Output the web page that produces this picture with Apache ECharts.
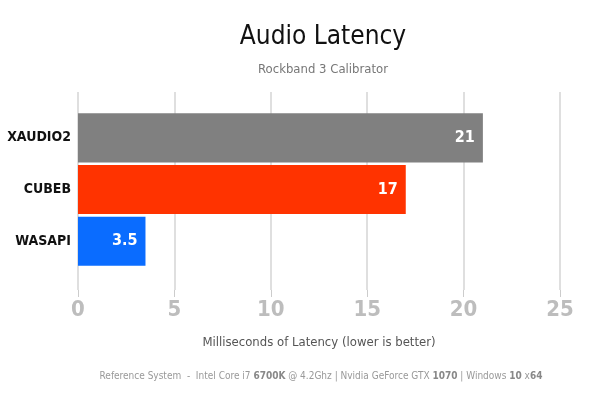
<!DOCTYPE html>
<html>
<head>
<meta charset="utf-8">
<script src="https://cdn.jsdelivr.net/npm/echarts@6/dist/echarts.min.js"></script>
<style>
  html, body { margin: 0; padding: 0; background: #fff; }
  #chart { width: 592px; height: 397px; }
</style>
</head>
<body>
<div id="chart"></div>
<script>
var apis = ['WASAPI', 'CUBEB', 'XAUDIO2'];
var latency = [3.5, 17, 21];
var barColors = ['#0a6cff', '#ff3300', '#808080'];
var tickValues = [0, 5, 10, 15, 20, 25];

var font = '"DejaVu Sans Condensed", "Liberation Sans Narrow", sans-serif';

var myChart = echarts.init(document.getElementById('chart'), null, {renderer: 'canvas'});
var option = {
    backgroundColor: '#fff',
    animation: false,
    title: [
        {
            text: 'Audio Latency',
            left: 318, textAlign: 'center', top: 19,
            textStyle: {fontFamily: font, fontSize: 26, fontWeight: 'normal', color: '#111'}
        },
        {
            text: 'Rockband 3 Calibrator',
            left: 318, textAlign: 'center', top: 58,
            textStyle: {fontFamily: font, fontSize: 13, fontWeight: 'normal', color: '#777'}
        },
        {
            text: 'Milliseconds of Latency (lower is better)',
            left: 314, textAlign: 'center', top: 331,
            textStyle: {fontFamily: font, fontSize: 13, fontWeight: 'normal', color: '#555'}
        },
        {
            text: '{n|Reference System  -  Intel Core i7 }{b|6700K}{n| @ 4.2Ghz | Nvidia GeForce GTX }{b|1070}{n| | Windows }{b|10}{n| x}{b|64}',
            left: 316, textAlign: 'center', top: 366,
            textStyle: {
                fontWeight: 'normal',
                rich: {
                    n: {fontFamily: font, fontSize: 10, color: '#999', fontWeight: 'normal'},
                    b: {fontFamily: font, fontSize: 10, color: '#888', fontWeight: 'bold'}
                }
            }
        }
    ],
    grid: [
        {left: 78, right: 32, top: 92, bottom: 107, outerBoundsMode: 'none', containLabel: false},
        {left: 78, right: 32, top: 112, height: 155, outerBoundsMode: 'none', containLabel: false}
    ],
    xAxis: [
        {
            gridIndex: 0, type: 'value', min: 0, max: 25, interval: 5,
            axisLine: {show: false},
            axisTick: {show: true, length: 7, lineStyle: {color: '#ccc'}},
            splitLine: {lineStyle: {color: '#d4d4d4', width: 1.5}},
            axisLabel: {
                fontFamily: font, fontSize: 22, color: '#bdbdbd', fontWeight: 'bold', margin: 9,
                formatter: function (v) { return tickValues.indexOf(v) >= 0 ? String(v) : ''; }
            }
        },
        {
            gridIndex: 1, type: 'value', min: 0, max: 25, interval: 5,
            axisLine: {show: false}, axisTick: {show: false},
            axisLabel: {show: false}, splitLine: {show: false}
        }
    ],
    yAxis: [
        {
            gridIndex: 0, type: 'category', data: [''],
            axisLine: {show: false}, axisTick: {show: false}, axisLabel: {show: false}
        },
        {
            gridIndex: 1, type: 'category', data: apis,
            axisLine: {show: false}, axisTick: {show: false},
            axisLabel: {fontFamily: font, fontSize: 14, fontWeight: 'bold', color: '#111', margin: 7}
        }
    ],
    series: [{
        type: 'bar',
        xAxisIndex: 1, yAxisIndex: 1,
        barCategoryGap: '5%',
        data: latency.map(function (v, i) {
            return {value: v, itemStyle: {color: barColors[i]}};
        }),
        label: {
            show: true, position: 'insideRight', distance: 8,
            fontFamily: font, fontSize: 16, fontWeight: 'bold', color: '#fff'
        }
    }]
};
myChart.setOption(option);
</script>
</body>
</html>
